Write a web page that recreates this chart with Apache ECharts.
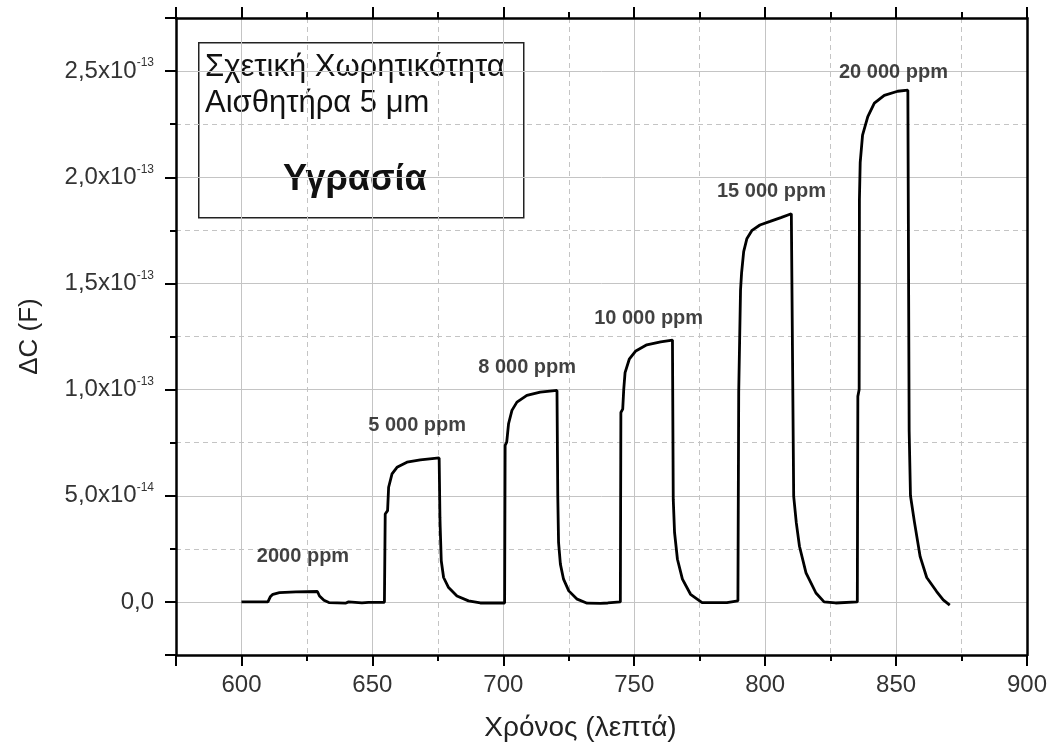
<!DOCTYPE html>
<html>
<head>
<meta charset="utf-8">
<script src="https://cdn.jsdelivr.net/npm/echarts@6/dist/echarts.min.js"></script>
<style>
html,body{margin:0;padding:0;background:#fff;}
#chart{width:1054px;height:751px;}
</style>
</head>
<body>
<div id="chart"></div>
<script>
// ---- data (time in minutes, ΔC in farads) ----
const timeMin = [
  600, 610.1, 610.5, 611, 612, 614.5, 620.8, 629, 629.8, 631.5, 633.4, 639.7, 640.9, 646, 648.5, 654.6,
  654.9, 655.8, 656.2, 657.5, 659.4, 663.2, 668.3, 675.5, 675.8, 675.9, 676.3, 677.2, 679.1, 682.3, 686.7, 691.2,
  700.5, 700.7, 701.3, 702.0, 703.3, 705.2, 709.0, 714.1, 720.5, 720.8, 721.1, 721.8, 723.0, 725.0, 728.2, 732.0, 737.1, 739.9,
  744.7, 744.9, 745.6, 746.0, 746.5, 748.1, 750.6, 754.8, 760.1, 764.6, 764.9, 765.4, 766.5, 768.4, 771.5, 775.9, 785.4,
  789.6, 789.9, 790.5, 790.6, 791.0, 791.8, 793.0, 795.0, 798.0, 801.9, 806.0, 810.0, 810.6, 810.9, 811.9, 813.1, 815.6, 819.4, 822.5, 826.9,
  835.2, 835.4, 835.9, 836.0, 836.3, 837.2, 839.2, 841.7, 845.5, 850.6, 854.5, 855.0, 855.5, 857.0, 859.2, 861.7, 865.5, 868.0, 870.5
];
const deltaC = [
  0, 0, -0.08e-14, 0.24e-14, 0.36e-14, 0.44e-14, 0.47e-14, 0.49e-14, 0.28e-14, 0.08e-14, -0.03e-14, -0.06e-14, 0, -0.05e-14, -0.02e-14, -0.02e-14,
  4.14e-14, 4.30e-14, 5.40e-14, 6.03e-14, 6.34e-14, 6.58e-14, 6.69e-14, 6.78e-14, 3.98e-14, 3.51e-14, 1.94e-14, 1.15e-14, 0.675e-14, 0.28e-14, 0.05e-14, -0.05e-14,
  -0.05e-14, 7.37e-14, 7.52e-14, 8.39e-14, 9.02e-14, 9.41e-14, 9.73e-14, 9.88e-14, 9.96e-14, 5.0e-14, 2.80e-14, 1.78e-14, 1.07e-14, 0.52e-14, 0.13e-14, -0.06e-14, -0.07e-14, -0.05e-14,
  0, 8.92e-14, 9.08e-14, 10.02e-14, 10.80e-14, 11.43e-14, 11.82e-14, 12.11e-14, 12.25e-14, 12.33e-14, 4.84e-14, 3.27e-14, 2.01e-14, 1.07e-14, 0.36e-14, -0.03e-14, -0.03e-14,
  0.05e-14, 9.86e-14, 9.9e-14, 14.7e-14, 15.5e-14, 16.5e-14, 17.1e-14, 17.5e-14, 17.75e-14, 17.92e-14, 18.1e-14, 18.28e-14, 18.3e-14, 4.97e-14, 3.72e-14, 2.62e-14, 1.37e-14, 0.42e-14, 0, -0.05e-14,
  0, 9.68e-14, 10.0e-14, 18.94e-14, 20.7e-14, 21.98e-14, 22.86e-14, 23.49e-14, 23.86e-14, 24.05e-14, 24.1e-14, 8.03e-14, 5.0e-14, 3.77e-14, 2.13e-14, 1.15e-14, 0.49e-14, 0.1e-14, -0.15e-14
];
// annotation labels
const ppmLabels = ['2000 ppm', '5 000 ppm', '8 000 ppm', '10 000 ppm', '15 000 ppm', '20 000 ppm'];
const ppmX = [623.5, 667.1, 709.1, 755.5, 802.4, 849.0];
const ppmY = [2.12e-14, 8.31e-14, 11.05e-14, 13.35e-14, 19.31e-14, 24.93e-14];
// axes
const xMin = 575, xMax = 900;
const yMin = -2.5e-14, yMax = 2.75e-13;
const xTitle = 'Χρόνος (λεπτά)';
const yTitle = 'ΔC (F)';
const boxLine1 = 'Σχετική Χωρητικότητα';
const boxLine2 = 'Αισθητήρα 5 μm';
const boxLine3 = 'Υγρασία';

const FONT = '"Liberation Sans", Arial, sans-serif';

function yFmt(v) {
  if (Math.abs(v) < 1e-20) return '{b|0,0}';
  const e = Math.floor(Math.log10(Math.abs(v)) + 1e-9);
  const m = v / Math.pow(10, e);
  return '{b|' + m.toFixed(1).replace('.', ',') + 'x10}{s|' + e + '}';
}

const lineData = timeMin.map((t, i) => [t, deltaC[i]]);
const labelData = ppmLabels.map((n, i) => ({ name: n, value: [ppmX[i], ppmY[i]] }));

const chart = echarts.init(document.getElementById('chart'), null, { renderer: 'canvas' });
const tickStyle = { color: '#000', width: 2 };
chart.setOption({
  animation: false,
  backgroundColor: '#fff',
  grid: { left: 176, right: 27, top: 18, bottom: 96, containLabel: false },
  xAxis: [{
    type: 'value', min: xMin, max: xMax, splitNumber: 6,
    axisLine: { show: true, onZero: false, lineStyle: { color: '#000', width: 2.5 } },
    axisTick: { show: true, length: 11, lineStyle: tickStyle },
    minorTick: { show: true, splitNumber: 2, length: 6, lineStyle: tickStyle },
    splitLine: { show: true, lineStyle: { color: '#c4c4c4', width: 1 } },
    minorSplitLine: { show: true, lineStyle: { color: '#c4c4c4', width: 1, type: [5, 4] } },
    axisLabel: { showMinLabel: false, margin: 18, fontSize: 24, color: '#333', fontFamily: FONT },
    name: xTitle, nameLocation: 'middle', nameGap: 59,
    nameTextStyle: { fontSize: 28, color: '#222', fontFamily: FONT, padding: [0, 42, 0, 0] }
  }, {
    type: 'value', position: 'top', min: xMin, max: xMax, splitNumber: 6,
    axisLine: { show: true, onZero: false, lineStyle: { color: '#000', width: 2.5 } },
    axisTick: { show: true, length: 11, lineStyle: tickStyle },
    minorTick: { show: true, splitNumber: 2, length: 6, lineStyle: tickStyle },
    splitLine: { show: false }, axisLabel: { show: false }
  }],
  yAxis: [{
    type: 'value', min: yMin, max: yMax, splitNumber: 6,
    axisLine: { show: true, onZero: false, lineStyle: { color: '#000', width: 2.5 } },
    axisTick: { show: true, length: 11, lineStyle: tickStyle },
    minorTick: { show: true, splitNumber: 2, length: 6, lineStyle: tickStyle },
    splitLine: { show: true, lineStyle: { color: '#c4c4c4', width: 1 } },
    minorSplitLine: { show: true, lineStyle: { color: '#c4c4c4', width: 1, type: [5, 4] } },
    axisLabel: {
      showMinLabel: false, showMaxLabel: false, margin: 22, formatter: yFmt,
      rich: {
        b: { fontSize: 24, color: '#333', fontFamily: FONT, lineHeight: 28 },
        s: { fontSize: 12, color: '#333', fontFamily: FONT, verticalAlign: 'top', lineHeight: 12 }
      }
    },
    name: yTitle, nameLocation: 'middle', nameGap: 133,
    nameTextStyle: { fontSize: 26, color: '#222', fontFamily: FONT }
  }, {
    type: 'value', position: 'right', min: yMin, max: yMax, splitNumber: 6,
    axisLine: { show: true, onZero: false, lineStyle: { color: '#000', width: 2.5 } },
    axisTick: { show: false }, splitLine: { show: false }, axisLabel: { show: false }
  }],
  series: [{
    type: 'line', data: lineData, xAxisIndex: 0, yAxisIndex: 0,
    showSymbol: false, symbol: 'none', smooth: false,
    lineStyle: { color: '#000', width: 2.8 }, silent: true, z: 5
  }, {
    type: 'scatter', data: labelData, xAxisIndex: 0, yAxisIndex: 0,
    symbolSize: 0, silent: true, z: 6,
    label: {
      show: true, position: 'inside', formatter: p => p.name,
      fontSize: 20, fontWeight: 'bold', color: '#111', fontFamily: FONT
    }
  }],
  graphic: [{
    type: 'group', z: 100,
    children: [{
      type: 'rect', left: 198, top: 42, shape: { width: 325, height: 175 },
      style: { fill: '#fff', stroke: '#222', lineWidth: 1.5 }
    }, {
      type: 'text', left: 205, top: 52,
      style: { text: boxLine1, fontSize: 31, fontFamily: FONT, fill: '#111' }
    }, {
      type: 'text', left: 205, top: 88,
      style: { text: boxLine2, fontSize: 31, fontFamily: FONT, fill: '#111' }
    }, {
      type: 'text', left: 283, top: 162,
      style: { text: boxLine3, fontSize: 36, fontWeight: 'bold', fontFamily: FONT, fill: '#111' }
    }]
  }]
});
</script>
</body>
</html>
